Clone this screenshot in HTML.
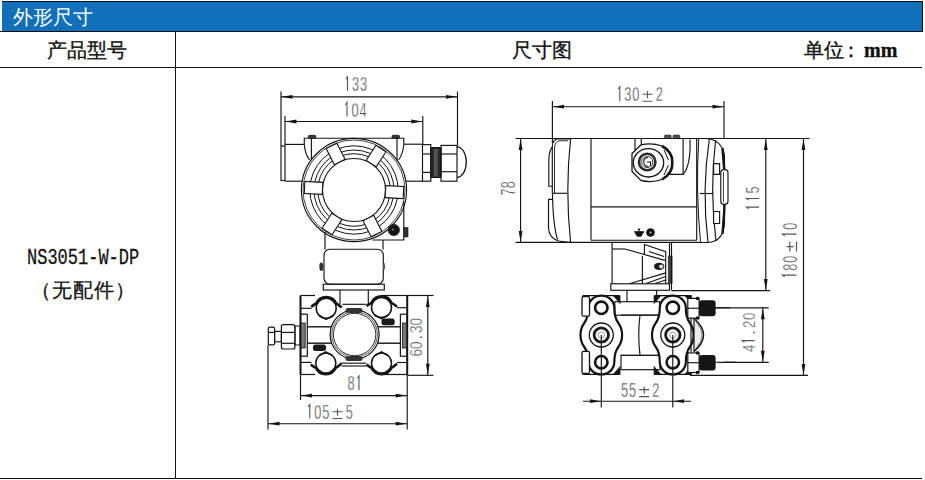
<!DOCTYPE html>
<html><head><meta charset="utf-8">
<style>
html,body{margin:0;padding:0;background:#fff;}
body{width:925px;height:480px;position:relative;overflow:hidden;font-family:"Liberation Sans",sans-serif;}
.ab{position:absolute;}
.hl{position:absolute;background:#111;}
#hdr{left:2px;top:2px;width:920px;height:29px;background:#1170b9;border-right:1px solid #111;}
#hdrt{left:12.5px;top:4.7px;color:#fff;font-size:20px;line-height:24px;white-space:nowrap;}
.th{font-weight:500;-webkit-text-stroke:0.35px #111;font-size:19.5px;line-height:22px;color:#111;white-space:nowrap;}
</style></head><body>
<div class="hl" style="left:2px;top:1px;width:921px;height:1px"></div>
<div id="hdr" class="ab"></div>
<div id="hdrt" class="ab">外形尺寸</div>
<div class="hl" style="left:0;top:31px;width:923px;height:1px"></div>
<div class="hl" style="left:0;top:67px;width:922px;height:1px"></div>
<div class="hl" style="left:175px;top:31px;width:1px;height:448px"></div>
<div class="hl" style="left:0;top:478px;width:922px;height:1px"></div>
<div class="ab th" style="left:47px;top:39px">产品型号</div>
<div class="ab th" style="left:512px;top:39px">尺寸图</div>
<div class="ab th" style="left:804px;top:39px">单位<span style="margin-left:-3px;margin-right:3px">：</span><span style="font-family:'Liberation Serif',serif;font-size:20px;font-weight:bold">mm</span></div>
<div class="ab" style="left:27px;top:245px;font-family:'Liberation Mono',monospace;font-size:17px;line-height:22px;color:#111;white-space:nowrap;transform:scaleY(1.28);transform-origin:0 0;-webkit-text-stroke:0.2px #111">NS3051-W-DP</div>
<div class="ab" style="left:30.5px;top:278px;font-size:19.5px;line-height:24px;color:#111;white-space:nowrap;letter-spacing:1px;-webkit-text-stroke:0.3px #111">（无配件）</div>
<svg class="ab" style="left:0;top:0" width="925" height="480" viewBox="0 0 925 480">
<line x1="281" y1="91.5" x2="281" y2="181" stroke="#141414" stroke-width="1.15"/>
<line x1="285" y1="116" x2="285" y2="181" stroke="#141414" stroke-width="1.15"/>
<line x1="457.5" y1="91.5" x2="457.5" y2="145.5" stroke="#141414" stroke-width="1.15"/>
<line x1="422.8" y1="116" x2="422.8" y2="144.5" stroke="#141414" stroke-width="1.15"/>
<line x1="281" y1="96.8" x2="457.5" y2="96.8" stroke="#141414" stroke-width="1.15"/>
<polygon points="281.5,96.8 292.5,94.9 292.5,98.7" fill="#141414"/>
<polygon points="457.0,96.8 446.0,94.9 446.0,98.7" fill="#141414"/>
<g transform="translate(355.5 84)"><path d="M-9.60 -4.80 L-8.00 -7.00 V7.00" stroke="#55555c" stroke-width="1.1" fill="none"/><text transform="translate(0.00 7.00) scale(0.653 1)" x="0" y="0" font-family="Liberation Sans" font-size="19.55" fill="#55555c" stroke="#fff" stroke-width="0.3" text-anchor="middle">3</text><text transform="translate(8.00 7.00) scale(0.653 1)" x="0" y="0" font-family="Liberation Sans" font-size="19.55" fill="#55555c" stroke="#fff" stroke-width="0.3" text-anchor="middle">3</text></g>
<line x1="285" y1="121.5" x2="422.8" y2="121.5" stroke="#141414" stroke-width="1.15"/>
<polygon points="285.5,121.5 296.5,119.6 296.5,123.4" fill="#141414"/>
<polygon points="422.3,121.5 411.3,119.6 411.3,123.4" fill="#141414"/>
<g transform="translate(355 109.5)"><path d="M-9.60 -4.80 L-8.00 -7.00 V7.00" stroke="#55555c" stroke-width="1.1" fill="none"/><text transform="translate(0.00 7.00) scale(0.653 1)" x="0" y="0" font-family="Liberation Sans" font-size="19.55" fill="#55555c" stroke="#fff" stroke-width="0.3" text-anchor="middle">0</text><text transform="translate(8.00 7.00) scale(0.653 1)" x="0" y="0" font-family="Liberation Sans" font-size="19.55" fill="#55555c" stroke="#fff" stroke-width="0.3" text-anchor="middle">4</text></g>
<line x1="281" y1="146" x2="285" y2="146" stroke="#141414" stroke-width="1.15"/>
<line x1="281" y1="180.5" x2="285" y2="180.5" stroke="#141414" stroke-width="1.15"/>
<line x1="285" y1="144.4" x2="304.3" y2="144.4" stroke="#141414" stroke-width="1.15"/>
<line x1="285" y1="181.2" x2="303" y2="181.2" stroke="#141414" stroke-width="1.15"/>
<path d="M304.3 144.4 V138.2 H403.8 V144.2" stroke="#141414" stroke-width="1.15" fill="none"/>
<path d="M304.3 144.4 Q305 154 309.5 160" stroke="#141414" stroke-width="1.15" fill="none"/>
<path d="M403.8 144.2 Q403 154 398.5 160" stroke="#141414" stroke-width="1.15" fill="none"/>
<line x1="311.4" y1="138.2" x2="311.4" y2="160" stroke="#141414" stroke-width="1.15"/>
<line x1="397" y1="138.2" x2="397" y2="160" stroke="#141414" stroke-width="1.15"/>
<rect x="308.3" y="135.3" width="7.5" height="2.9" rx="1.2" stroke="#141414" stroke-width="0.8" fill="#3a3a3a"/>
<rect x="392" y="135.3" width="7.5" height="2.9" rx="1.2" stroke="#141414" stroke-width="0.8" fill="#3a3a3a"/>
<line x1="404" y1="144.2" x2="422.5" y2="144.2" stroke="#141414" stroke-width="1.15"/>
<line x1="404" y1="181.2" x2="422.5" y2="181.2" stroke="#141414" stroke-width="1.15"/>
<rect x="422.5" y="144.6" width="8.3" height="36.6" rx="0" stroke="#141414" stroke-width="1.15" fill="none"/>
<line x1="422.5" y1="154" x2="430.8" y2="154" stroke="#141414" stroke-width="1.15"/>
<line x1="422.5" y1="172.4" x2="430.8" y2="172.4" stroke="#141414" stroke-width="1.15"/>
<rect x="430.8" y="147.6" width="10.2" height="29.9" rx="1" stroke="#141414" stroke-width="1.2" fill="#2a2a2a"/>
<line x1="434.5" y1="149" x2="434.5" y2="176.5" stroke="#666" stroke-width="0.8"/>
<line x1="437.5" y1="149" x2="437.5" y2="176.5" stroke="#555" stroke-width="0.8"/>
<line x1="436" y1="149" x2="436" y2="176.5" stroke="#bbb" stroke-width="0.6"/>
<rect x="441" y="145.4" width="16" height="35.8" rx="0" stroke="#141414" stroke-width="1.15" fill="none"/>
<line x1="441" y1="154" x2="457" y2="154" stroke="#141414" stroke-width="1.15"/>
<line x1="441" y1="171.7" x2="457" y2="171.7" stroke="#141414" stroke-width="1.15"/>
<path d="M457 146.8 A9.3 15.3 0 0 1 457 177.4" stroke="#141414" stroke-width="1.25" fill="none"/>
<ellipse cx="354" cy="190" rx="52.6" ry="51.6" stroke="#141414" stroke-width="1.1" fill="#fff"/>
<ellipse cx="354" cy="190" rx="51" ry="50" stroke="#141414" stroke-width="0.8" fill="none"/>
<circle cx="354" cy="190" r="44.2" stroke="#141414" stroke-width="1" fill="none"/>
<circle cx="354" cy="190" r="40" stroke="#141414" stroke-width="1" fill="none"/>
<circle cx="354" cy="190" r="36.3" stroke="#141414" stroke-width="1" fill="none"/>
<circle cx="354" cy="190" r="31.5" stroke="#141414" stroke-width="1.1" fill="#fff"/>
<g transform="rotate(3 354 190)"><rect x="385.5" y="184" width="18" height="12" stroke="#141414" stroke-width="1.1" fill="#fff"/></g>
<g transform="rotate(63 354 190)"><rect x="385.5" y="184" width="18" height="12" stroke="#141414" stroke-width="1.1" fill="#fff"/></g>
<g transform="rotate(123 354 190)"><rect x="385.5" y="184" width="18" height="12" stroke="#141414" stroke-width="1.1" fill="#fff"/></g>
<g transform="rotate(183 354 190)"><rect x="385.5" y="184" width="18" height="12" stroke="#141414" stroke-width="1.1" fill="#fff"/></g>
<g transform="rotate(243 354 190)"><rect x="385.5" y="184" width="18" height="12" stroke="#141414" stroke-width="1.1" fill="#fff"/></g>
<g transform="rotate(303 354 190)"><rect x="385.5" y="184" width="18" height="12" stroke="#141414" stroke-width="1.1" fill="#fff"/></g>
<path d="M403.8 201 V240 H372.5" stroke="#141414" stroke-width="1.15" fill="none"/>
<circle cx="393.8" cy="230" r="5.8" stroke="#141414" stroke-width="0.5" fill="#151515"/>
<circle cx="393" cy="229.5" r="1" stroke="#141414" stroke-width="0" fill="#888"/>
<rect x="404" y="227.5" width="4" height="9.5" rx="0" stroke="#141414" stroke-width="0.6" fill="#333"/>
<line x1="325" y1="232" x2="325" y2="249.5" stroke="#141414" stroke-width="1.15"/>
<line x1="383" y1="240" x2="383" y2="249.5" stroke="#141414" stroke-width="1.15"/>
<rect x="324" y="249.2" width="59.3" height="35" rx="6" stroke="#141414" stroke-width="1.15" fill="none"/>
<ellipse cx="321.3" cy="266.7" rx="2" ry="4.2" fill="#333"/>
<ellipse cx="384" cy="266.5" rx="1" ry="3.5" fill="#555"/>
<rect x="323.3" y="284.2" width="61" height="5.8" rx="0" stroke="#141414" stroke-width="1.15" fill="none"/>
<line x1="340" y1="290" x2="340" y2="304.3" stroke="#141414" stroke-width="1.15"/>
<line x1="368.3" y1="290" x2="368.3" y2="304.3" stroke="#141414" stroke-width="1.15"/>
<line x1="300.5" y1="295.5" x2="300.5" y2="374.5" stroke="#141414" stroke-width="2"/>
<line x1="407.2" y1="295.5" x2="407.2" y2="374.5" stroke="#141414" stroke-width="2"/>
<line x1="300.5" y1="295.5" x2="315" y2="295.5" stroke="#141414" stroke-width="1.2"/>
<line x1="300.5" y1="374.5" x2="315" y2="374.5" stroke="#141414" stroke-width="1.2"/>
<line x1="381" y1="295.5" x2="407.2" y2="295.5" stroke="#141414" stroke-width="1.2"/>
<line x1="381" y1="374.5" x2="407.2" y2="374.5" stroke="#141414" stroke-width="1.2"/>
<circle cx="326.2" cy="308.3" r="10" stroke="#141414" stroke-width="1.5" fill="#fff"/>
<path d="M319.2 315.3 L326.2 319.5 L333.2 315.3" stroke="#141414" stroke-width="1.4" fill="none"/>
<path d="M311.2 306.8 Q313.7 304.8 316.2 303.5 A11 11 0 0 1 336.2 303.5 Q338.7 304.8 341.7 307.5" stroke="#141414" stroke-width="2.6" fill="none"/>
<circle cx="381.5" cy="307.6" r="10" stroke="#141414" stroke-width="1.5" fill="#fff"/>
<path d="M374.5 314.6 L381.5 318.8 L388.5 314.6" stroke="#141414" stroke-width="1.4" fill="none"/>
<path d="M366.5 306.1 Q369.0 304.1 371.5 302.8 A11 11 0 0 1 391.5 302.8 Q394.0 304.1 397.0 306.8" stroke="#141414" stroke-width="2.6" fill="none"/>
<circle cx="325.8" cy="363" r="10" stroke="#141414" stroke-width="1.5" fill="#fff"/>
<path d="M318.8 356 L325.8 351.8 L332.8 356" stroke="#141414" stroke-width="1.4" fill="none"/>
<path d="M310.8 364.5 Q313.3 366.5 315.8 367.8 A11 11 0 0 0 335.8 367.8 Q338.3 366.5 341.3 363.8" stroke="#141414" stroke-width="2.6" fill="none"/>
<circle cx="381.5" cy="363" r="10" stroke="#141414" stroke-width="1.5" fill="#fff"/>
<path d="M374.5 356 L381.5 351.8 L388.5 356" stroke="#141414" stroke-width="1.4" fill="none"/>
<path d="M366.5 364.5 Q369.0 366.5 371.5 367.8 A11 11 0 0 0 391.5 367.8 Q394.0 366.5 397.0 363.8" stroke="#141414" stroke-width="2.6" fill="none"/>
<line x1="300.5" y1="308.3" x2="311.7" y2="308.3" stroke="#141414" stroke-width="1.15"/>
<line x1="342.5" y1="304.3" x2="366" y2="304.3" stroke="#141414" stroke-width="1.15"/>
<line x1="397" y1="307.7" x2="407.2" y2="307.7" stroke="#141414" stroke-width="1.15"/>
<line x1="300.5" y1="362.4" x2="311.5" y2="362.4" stroke="#141414" stroke-width="1.15"/>
<line x1="340" y1="363.2" x2="366.4" y2="363.2" stroke="#141414" stroke-width="1.15"/>
<line x1="397" y1="362.5" x2="407.2" y2="362.5" stroke="#141414" stroke-width="1.15"/>
<line x1="341.6" y1="366" x2="366.4" y2="366" stroke="#141414" stroke-width="1.15"/>
<line x1="307" y1="326.8" x2="332" y2="326.8" stroke="#141414" stroke-width="1.4"/>
<line x1="307" y1="343.2" x2="332" y2="343.2" stroke="#141414" stroke-width="1.4"/>
<line x1="377" y1="326.8" x2="400.5" y2="326.8" stroke="#141414" stroke-width="1.4"/>
<line x1="377" y1="343.2" x2="400.5" y2="343.2" stroke="#141414" stroke-width="1.4"/>
<rect x="300.5" y="314.2" width="6.8" height="42" rx="0" stroke="#141414" stroke-width="1.2" fill="none"/>
<rect x="301" y="323" width="4.2" height="25" rx="0" stroke="#141414" stroke-width="0.8" fill="#777"/>
<rect x="400.4" y="314.2" width="6.8" height="42" rx="0" stroke="#141414" stroke-width="1.2" fill="none"/>
<rect x="402.5" y="323" width="4.2" height="25" rx="0" stroke="#141414" stroke-width="0.8" fill="#777"/>
<circle cx="354.6" cy="334.5" r="24.5" stroke="#141414" stroke-width="1.2" fill="#fff"/>
<circle cx="354.6" cy="334.5" r="22.8" stroke="#141414" stroke-width="0.7" fill="none"/>
<circle cx="354.6" cy="334.5" r="21.2" stroke="#141414" stroke-width="0.9" fill="#fff"/>
<rect x="345.5" y="308" width="17" height="5" rx="2.5" stroke="#141414" stroke-width="0" fill="#333"/>
<rect x="345.5" y="356" width="17" height="5" rx="2.5" stroke="#141414" stroke-width="0" fill="#333"/>
<rect x="381.5" y="318.6" width="13.2" height="6.6" rx="2.5" stroke="#141414" stroke-width="0" fill="#1a1a1a"/>
<rect x="313" y="344.5" width="13" height="6.6" rx="2.5" stroke="#141414" stroke-width="0" fill="#1a1a1a"/>
<rect x="295" y="326" width="5" height="19" rx="0" stroke="#141414" stroke-width="1" fill="none"/>
<rect x="281.4" y="324.6" width="13.5" height="24.4" rx="2" stroke="#141414" stroke-width="1.2" fill="none"/>
<line x1="281.4" y1="332.4" x2="294.9" y2="332.4" stroke="#141414" stroke-width="1.15"/>
<line x1="281.4" y1="343.3" x2="294.9" y2="343.3" stroke="#141414" stroke-width="1.15"/>
<rect x="274.6" y="331.4" width="6.8" height="10.4" rx="0" stroke="#141414" stroke-width="1.15" fill="none"/>
<rect x="268.3" y="327.2" width="6.3" height="17.7" rx="1.5" stroke="#141414" stroke-width="1.2" fill="none"/>
<line x1="268.3" y1="332.4" x2="274.6" y2="332.4" stroke="#141414" stroke-width="1.15"/>
<line x1="300.5" y1="374.5" x2="300.5" y2="400" stroke="#141414" stroke-width="1.15"/>
<line x1="407.2" y1="374.5" x2="407.2" y2="429.5" stroke="#141414" stroke-width="1.15"/>
<line x1="300.5" y1="395.6" x2="407.2" y2="395.6" stroke="#141414" stroke-width="1.15"/>
<polygon points="301.0,395.6 312.0,393.7 312.0,397.5" fill="#141414"/>
<polygon points="406.7,395.6 395.7,393.7 395.7,397.5" fill="#141414"/>
<g transform="translate(355 383)"><text transform="translate(-4.00 7.00) scale(0.653 1)" x="0" y="0" font-family="Liberation Sans" font-size="19.55" fill="#55555c" stroke="#fff" stroke-width="0.3" text-anchor="middle">8</text><path d="M2.40 -4.80 L4.00 -7.00 V7.00" stroke="#55555c" stroke-width="1.1" fill="none"/></g>
<line x1="268" y1="345" x2="268" y2="429.5" stroke="#141414" stroke-width="1.15"/>
<line x1="268" y1="423.7" x2="407.2" y2="423.7" stroke="#141414" stroke-width="1.15"/>
<polygon points="268.5,423.7 279.5,421.8 279.5,425.6" fill="#141414"/>
<polygon points="406.7,423.7 395.7,421.8 395.7,425.6" fill="#141414"/>
<g transform="translate(329.5 411.5)"><path d="M-21.30 -4.80 L-19.70 -7.00 V7.00" stroke="#55555c" stroke-width="1.1" fill="none"/><text transform="translate(-11.70 7.00) scale(0.653 1)" x="0" y="0" font-family="Liberation Sans" font-size="19.55" fill="#55555c" stroke="#fff" stroke-width="0.3" text-anchor="middle">0</text><text transform="translate(-3.70 7.00) scale(0.653 1)" x="0" y="0" font-family="Liberation Sans" font-size="19.55" fill="#55555c" stroke="#fff" stroke-width="0.3" text-anchor="middle">5</text><path d="M3.00 0.28 H13.00 M8.00 -2.80 V4.20 M3.00 7.00 H13.00" stroke="#55555c" stroke-width="1.15" fill="none"/><text transform="translate(19.70 7.00) scale(0.653 1)" x="0" y="0" font-family="Liberation Sans" font-size="19.55" fill="#55555c" stroke="#fff" stroke-width="0.3" text-anchor="middle">5</text></g>
<line x1="407.2" y1="295.5" x2="433.5" y2="295.5" stroke="#141414" stroke-width="1.15"/>
<line x1="407.2" y1="375.3" x2="433.5" y2="375.3" stroke="#141414" stroke-width="1.15"/>
<line x1="427.8" y1="295.5" x2="427.8" y2="375.3" stroke="#141414" stroke-width="1.15"/>
<polygon points="427.8,296.0 425.9,307.0 429.7,307.0" fill="#141414"/>
<polygon points="427.8,374.8 425.9,363.8 429.7,363.8" fill="#141414"/>
<g transform="translate(415.7 337.2) rotate(-90)"><text transform="translate(-15.58 6.10) scale(0.799 1)" x="0" y="0" font-family="Liberation Sans" font-size="17.04" fill="#55555c" stroke="#fff" stroke-width="0.3" text-anchor="middle">6</text><text transform="translate(-7.98 6.10) scale(0.799 1)" x="0" y="0" font-family="Liberation Sans" font-size="17.04" fill="#55555c" stroke="#fff" stroke-width="0.3" text-anchor="middle">0</text><circle cx="0.00" cy="5.30" r="0.9" fill="#55555c"/><text transform="translate(7.98 6.10) scale(0.799 1)" x="0" y="0" font-family="Liberation Sans" font-size="17.04" fill="#55555c" stroke="#fff" stroke-width="0.3" text-anchor="middle">3</text><text transform="translate(15.58 6.10) scale(0.799 1)" x="0" y="0" font-family="Liberation Sans" font-size="17.04" fill="#55555c" stroke="#fff" stroke-width="0.3" text-anchor="middle">0</text></g>
<line x1="515.5" y1="138.5" x2="809.5" y2="138.5" stroke="#141414" stroke-width="1.15"/>
<line x1="515.5" y1="242.4" x2="702" y2="242.4" stroke="#141414" stroke-width="1.15"/>
<line x1="520.6" y1="138.5" x2="520.6" y2="242.5" stroke="#141414" stroke-width="1.15"/>
<polygon points="520.6,139.0 518.7,150.0 522.5,150.0" fill="#141414"/>
<polygon points="520.6,242.0 518.7,231.0 522.5,231.0" fill="#141414"/>
<g transform="translate(507.7 188.4) rotate(-90)"><text transform="translate(-3.75 7.00) scale(0.653 1)" x="0" y="0" font-family="Liberation Sans" font-size="19.55" fill="#55555c" stroke="#fff" stroke-width="0.3" text-anchor="middle">7</text><text transform="translate(3.75 7.00) scale(0.653 1)" x="0" y="0" font-family="Liberation Sans" font-size="19.55" fill="#55555c" stroke="#fff" stroke-width="0.3" text-anchor="middle">8</text></g>
<line x1="552.4" y1="101" x2="552.4" y2="143" stroke="#141414" stroke-width="1.15"/>
<line x1="724" y1="101" x2="724" y2="139" stroke="#141414" stroke-width="1.15"/>
<line x1="552.4" y1="106.7" x2="724" y2="106.7" stroke="#141414" stroke-width="1.15"/>
<polygon points="553.0,106.7 564.0,104.8 564.0,108.6" fill="#141414"/>
<polygon points="723.5,106.7 712.5,104.8 712.5,108.6" fill="#141414"/>
<g transform="translate(639.5 94)"><path d="M-21.30 -5.05 L-19.70 -7.25 V7.25" stroke="#55555c" stroke-width="1.1" fill="none"/><text transform="translate(-11.70 7.25) scale(0.630 1)" x="0" y="0" font-family="Liberation Sans" font-size="20.25" fill="#55555c" stroke="#fff" stroke-width="0.3" text-anchor="middle">3</text><text transform="translate(-3.70 7.25) scale(0.630 1)" x="0" y="0" font-family="Liberation Sans" font-size="20.25" fill="#55555c" stroke="#fff" stroke-width="0.3" text-anchor="middle">0</text><path d="M3.00 0.29 H13.00 M8.00 -2.90 V4.35 M3.00 7.25 H13.00" stroke="#55555c" stroke-width="1.15" fill="none"/><text transform="translate(19.70 7.25) scale(0.630 1)" x="0" y="0" font-family="Liberation Sans" font-size="20.25" fill="#55555c" stroke="#fff" stroke-width="0.3" text-anchor="middle">2</text></g>
<path d="M570.6 138.8 H558 Q552.5 139.5 552.3 147 V193.5" stroke="#141414" stroke-width="1.15" fill="none"/>
<path d="M568 140.8 H559 Q555 141.5 554.5 148 V193.5" stroke="#141414" stroke-width="0.9" fill="none"/>
<path d="M552 147 Q549 152 548.8 160 V186.2 H552.3" stroke="#141414" stroke-width="1.15" fill="none"/>
<path d="M553 199.4 H548.5 V228 Q549 238 558.7 241 L570.6 242.5" stroke="#141414" stroke-width="1.15" fill="none"/>
<path d="M552.5 193.5 Q553 225 557.5 239.5" stroke="#141414" stroke-width="1.15" fill="none"/>
<line x1="552.5" y1="193.3" x2="567" y2="193.3" stroke="#141414" stroke-width="1.15"/>
<path d="M570.6 138.8 Q565 190 570.6 242.5" stroke="#141414" stroke-width="1.15" fill="none"/>
<line x1="591" y1="138.5" x2="591" y2="240.2" stroke="#141414" stroke-width="1.15"/>
<line x1="591" y1="240.2" x2="696.7" y2="240.2" stroke="#141414" stroke-width="1.15"/>
<line x1="591" y1="206.9" x2="696.7" y2="206.9" stroke="#141414" stroke-width="1.15"/>
<line x1="696.7" y1="138.5" x2="696.7" y2="240.2" stroke="#141414" stroke-width="1.15"/>
<path d="M698.8 138.5 Q695.5 190 700.5 241.5" stroke="#141414" stroke-width="1.0" fill="none"/>
<path d="M709.4 138.5 Q701.5 190 708 242.2" stroke="#141414" stroke-width="1.15" fill="none"/>
<path d="M715.6 140 Q709.5 190 716 241" stroke="#141414" stroke-width="1.15" fill="none"/>
<path d="M705 138.5 Q722 139 724.5 156 V222 Q724 241.5 708 242.5 H698.7" stroke="#141414" stroke-width="1.15" fill="none"/>
<path d="M722.5 148 Q727 190 722.5 234" stroke="#141414" stroke-width="2.4" fill="none"/>
<rect x="720.8" y="169.6" width="7.2" height="34.7" rx="3" stroke="#141414" stroke-width="1.15" fill="#fff"/>
<line x1="723.5" y1="172" x2="723.5" y2="202" stroke="#141414" stroke-width="0.8"/>
<line x1="700" y1="193.5" x2="713.3" y2="193.5" stroke="#141414" stroke-width="1.15"/>
<path d="M713.6 163.6 H719.6 V174.4 H713.6 Z" stroke="#141414" stroke-width="1.15" fill="#fff"/>
<path d="M713.6 211.5 H719.6 V223.5 H713.6 Z" stroke="#141414" stroke-width="1.15" fill="#fff"/>
<path d="M635 138.5 V153.7" stroke="#141414" stroke-width="1.15" fill="none"/>
<line x1="641.3" y1="138.5" x2="641.3" y2="146" stroke="#141414" stroke-width="1.15"/>
<path d="M683.1 138.5 V174.4 H667.5" stroke="#141414" stroke-width="1.15" fill="none"/>
<path d="M690 139.4 Q691 165 683.1 174.4" stroke="#141414" stroke-width="1.15" fill="none"/>
<rect x="664.4" y="135" width="6.8" height="3.3" rx="1" stroke="#141414" stroke-width="0.5" fill="#555"/>
<rect x="673" y="135" width="6.8" height="3.3" rx="1" stroke="#141414" stroke-width="0.5" fill="#555"/>
<path d="M632 153.5 L641 144.8 Q652 142.5 662 146 Q672.5 152 672 162.6 Q672.5 173 662 179.5 Q652 183 641 180.5 L632 171.5 Z" stroke="#141414" stroke-width="1.3" fill="#fff"/>
<path d="M662 146 Q673 152 672.3 162.6 Q673 173 662 179.5" stroke="#141414" stroke-width="2.6" fill="none"/>
<path d="M664 150 L668.5 160 M664 175 L668.5 165" stroke="#141414" stroke-width="1.0" fill="none"/>
<ellipse cx="648.5" cy="162.8" rx="15.2" ry="14.2" stroke="#141414" stroke-width="1.3" fill="#fff"/>
<circle cx="647.2" cy="162" r="8.2" stroke="#2a2a2a" stroke-width="2.6" fill="#fff"/>
<circle cx="647.2" cy="162" r="5.6" stroke="#141414" stroke-width="0.8" fill="none"/>
<path d="M648 157.5 Q643.5 158 643.8 162 Q644 166.5 648.5 166.5 M646.8 162 H650.5 V166" stroke="#141414" stroke-width="1.1" fill="none"/>
<circle cx="639" cy="229.6" r="1.2" stroke="#141414" stroke-width="0" fill="#141414"/>
<path d="M634.4 231.6 L643.8 231.6 L641 236.3 L637.2 236.3 Z" stroke="#141414" stroke-width="0.8" fill="#141414"/>
<circle cx="650.5" cy="232.5" r="4.3" stroke="#141414" stroke-width="0" fill="#141414"/>
<circle cx="650.5" cy="232.5" r="1.1" stroke="#141414" stroke-width="0" fill="#bbb"/>
<path d="M612.1 242.5 V283.8" stroke="#141414" stroke-width="1.15" fill="none"/>
<line x1="669.5" y1="242.5" x2="669.5" y2="283.8" stroke="#141414" stroke-width="1.15"/>
<line x1="612.1" y1="249" x2="625" y2="249" stroke="#141414" stroke-width="1.15"/>
<line x1="625" y1="249" x2="665.7" y2="260.6" stroke="#141414" stroke-width="1.15"/>
<line x1="629.5" y1="283.8" x2="665.7" y2="272.9" stroke="#141414" stroke-width="1.15"/>
<line x1="642.4" y1="256" x2="642.4" y2="283.8" stroke="#141414" stroke-width="1.15"/>
<path d="M644.4 255 V244.5 L665.7 251.6 V283.8" stroke="#141414" stroke-width="1.15" fill="none"/>
<path d="M646 283.5 L665.7 276.5 M655 283.5 L665.7 280" stroke="#141414" stroke-width="1.15" fill="none"/>
<path d="M649 251.5 L664 256.5" stroke="#141414" stroke-width="1.15" fill="none"/>
<ellipse cx="659.2" cy="266.4" rx="5.2" ry="3.6" fill="#1a1a1a"/>
<ellipse cx="661.2" cy="266.4" rx="2.2" ry="2" fill="#ddd"/>
<rect x="668.2" y="256" width="3.9" height="27.2" rx="0" stroke="#141414" stroke-width="0.5" fill="#444"/>
<line x1="671.5" y1="242.5" x2="671.5" y2="290" stroke="#141414" stroke-width="1.15"/>
<rect x="610.8" y="283.8" width="58.7" height="6.5" rx="0" stroke="#141414" stroke-width="1.15" fill="none"/>
<line x1="627" y1="290.3" x2="627" y2="301.7" stroke="#141414" stroke-width="1.15"/>
<line x1="656.6" y1="290.3" x2="656.6" y2="301.7" stroke="#141414" stroke-width="1.15"/>
<line x1="671.5" y1="290.6" x2="770.2" y2="290.6" stroke="#141414" stroke-width="1.15"/>
<rect x="614.8" y="301.7" width="44.8" height="13.5" rx="0" stroke="#141414" stroke-width="1.15" fill="#fff"/>
<line x1="621" y1="315" x2="660" y2="315" stroke="#141414" stroke-width="1.15"/>
<line x1="621" y1="355.4" x2="660" y2="355.4" stroke="#141414" stroke-width="1.15"/>
<rect x="621" y="355.4" width="39" height="14.3" rx="0" stroke="#141414" stroke-width="1.15" fill="#fff"/>
<path d="M640 315 Q637.5 335 640 355.4" stroke="#141414" stroke-width="1.15" fill="none"/>
<line x1="583.3" y1="295.6" x2="619.3" y2="295.6" stroke="#141414" stroke-width="1.2"/>
<line x1="583.3" y1="374.4" x2="619.3" y2="374.4" stroke="#141414" stroke-width="1.2"/>
<path d="M582.5 295.6 h7 l-7 8 Z" stroke="#141414" stroke-width="0.6" fill="#141414"/>
<path d="M620.0999999999999 295.6 h-7 l7 8 Z" stroke="#141414" stroke-width="0.6" fill="#141414"/>
<path d="M582.5 374.4 h7 l-7 -8 Z" stroke="#141414" stroke-width="0.6" fill="#141414"/>
<path d="M620.0999999999999 374.4 h-7 l7 -8 Z" stroke="#141414" stroke-width="0.6" fill="#141414"/>
<path d="M588.3 307.8 A13 12.2 0 0 1 614.3 307.8 C614.3 314 615.3 319 618.3 323 C621.3 327 622.0999999999999 331 622.0999999999999 335 C622.0999999999999 339 621.3 343 618.3 347 C615.3 351 614.3 356 614.3 362.2 A13 12.2 0 0 1 588.3 362.2 C588.3 356 587.3 351 584.3 347 C581.3 343 580.5 339 580.5 335 C580.5 331 581.3 327 584.3 323 C587.3 319 588.3 314 588.3 307.8 Z" stroke="#141414" stroke-width="2.2" fill="#fff"/>
<circle cx="601.3" cy="307.8" r="6.2" stroke="#141414" stroke-width="2.6" fill="#fff"/>
<circle cx="601.3" cy="362.2" r="6.2" stroke="#141414" stroke-width="2.6" fill="#fff"/>
<circle cx="601.3" cy="335" r="12" stroke="#141414" stroke-width="1.3" fill="#fff"/>
<circle cx="601.3" cy="335" r="7.2" stroke="#1a1a1a" stroke-width="2.8" fill="#fff"/>
<circle cx="601.3" cy="335" r="3.2" stroke="#888" stroke-width="0.8" fill="none"/>
<line x1="654.8" y1="295.6" x2="690.8" y2="295.6" stroke="#141414" stroke-width="1.2"/>
<line x1="654.8" y1="374.4" x2="690.8" y2="374.4" stroke="#141414" stroke-width="1.2"/>
<path d="M654.0 295.6 h7 l-7 8 Z" stroke="#141414" stroke-width="0.6" fill="#141414"/>
<path d="M691.5999999999999 295.6 h-7 l7 8 Z" stroke="#141414" stroke-width="0.6" fill="#141414"/>
<path d="M654.0 374.4 h7 l-7 -8 Z" stroke="#141414" stroke-width="0.6" fill="#141414"/>
<path d="M691.5999999999999 374.4 h-7 l7 -8 Z" stroke="#141414" stroke-width="0.6" fill="#141414"/>
<path d="M659.8 307.8 A13 12.2 0 0 1 685.8 307.8 C685.8 314 686.8 319 689.8 323 C692.8 327 693.5999999999999 331 693.5999999999999 335 C693.5999999999999 339 692.8 343 689.8 347 C686.8 351 685.8 356 685.8 362.2 A13 12.2 0 0 1 659.8 362.2 C659.8 356 658.8 351 655.8 347 C652.8 343 652.0 339 652.0 335 C652.0 331 652.8 327 655.8 323 C658.8 319 659.8 314 659.8 307.8 Z" stroke="#141414" stroke-width="2.2" fill="#fff"/>
<circle cx="672.8" cy="307.8" r="6.2" stroke="#141414" stroke-width="2.6" fill="#fff"/>
<circle cx="672.8" cy="362.2" r="6.2" stroke="#141414" stroke-width="2.6" fill="#fff"/>
<circle cx="672.8" cy="335" r="12" stroke="#141414" stroke-width="1.3" fill="#fff"/>
<circle cx="672.8" cy="335" r="7.2" stroke="#1a1a1a" stroke-width="2.8" fill="#fff"/>
<circle cx="672.8" cy="335" r="3.2" stroke="#888" stroke-width="0.8" fill="none"/>
<rect x="582" y="296.7" width="7.5" height="19.5" rx="1.5" stroke="#141414" stroke-width="1.3" fill="#fff"/>
<rect x="582" y="351.4" width="7.5" height="22" rx="1.5" stroke="#141414" stroke-width="1.3" fill="#fff"/>
<rect x="687.8" y="298.4" width="11.3" height="19.700000000000045" rx="0" stroke="#141414" stroke-width="1.2" fill="#fff"/>
<line x1="687.8" y1="308.25" x2="699.1" y2="308.25" stroke="#141414" stroke-width="1.15"/>
<rect x="699.1" y="300.3" width="16.5" height="16.0" rx="3" stroke="#141414" stroke-width="0" fill="#151515"/>
<rect x="696" y="296.9" width="3" height="3" rx="0" stroke="#141414" stroke-width="0" fill="#141414"/>
<rect x="696" y="316.6" width="3" height="3" rx="0" stroke="#141414" stroke-width="0" fill="#141414"/>
<rect x="687.8" y="352.9" width="11.3" height="19.600000000000023" rx="0" stroke="#141414" stroke-width="1.2" fill="#fff"/>
<line x1="687.8" y1="362.7" x2="699.1" y2="362.7" stroke="#141414" stroke-width="1.15"/>
<rect x="699.1" y="355" width="16.5" height="15.5" rx="3" stroke="#141414" stroke-width="0" fill="#151515"/>
<rect x="696" y="351.4" width="3" height="3" rx="0" stroke="#141414" stroke-width="0" fill="#141414"/>
<rect x="696" y="371.0" width="3" height="3" rx="0" stroke="#141414" stroke-width="0" fill="#141414"/>
<path d="M694 318.5 Q713 335 694 351.5" stroke="#141414" stroke-width="1.6" fill="#eee"/>
<path d="M696 322 Q708 335 696 348" stroke="#777" stroke-width="0.8" fill="none"/>
<line x1="691" y1="318" x2="691" y2="352" stroke="#141414" stroke-width="1.2"/>
<line x1="694" y1="318" x2="694" y2="352" stroke="#141414" stroke-width="1.2"/>
<path d="M715 307.8 H730 M715 362.2 H719 M724 362.2 H736" stroke="#141414" stroke-width="1"/>
<line x1="714.6" y1="307.8" x2="768.7" y2="307.8" stroke="#141414" stroke-width="1.15"/>
<line x1="719" y1="362.3" x2="768.7" y2="362.3" stroke="#141414" stroke-width="1.15"/>
<line x1="762.8" y1="307.8" x2="762.8" y2="362.3" stroke="#141414" stroke-width="1.15"/>
<polygon points="762.8,308.3 760.9,319.3 764.7,319.3" fill="#141414"/>
<polygon points="762.8,361.8 760.9,350.8 764.7,350.8" fill="#141414"/>
<g transform="translate(748.5 332.4) rotate(-90)"><text transform="translate(-15.99 6.20) scale(0.762 1)" x="0" y="0" font-family="Liberation Sans" font-size="17.32" fill="#55555c" stroke="#fff" stroke-width="0.3" text-anchor="middle">4</text><path d="M-9.79 -4.00 L-8.19 -6.20 V6.20" stroke="#55555c" stroke-width="1.1" fill="none"/><circle cx="-0.00" cy="5.40" r="0.9" fill="#55555c"/><text transform="translate(8.19 6.20) scale(0.762 1)" x="0" y="0" font-family="Liberation Sans" font-size="17.32" fill="#55555c" stroke="#fff" stroke-width="0.3" text-anchor="middle">2</text><text transform="translate(15.99 6.20) scale(0.762 1)" x="0" y="0" font-family="Liberation Sans" font-size="17.32" fill="#55555c" stroke="#fff" stroke-width="0.3" text-anchor="middle">0</text></g>
<line x1="765.8" y1="138.5" x2="765.8" y2="290.6" stroke="#141414" stroke-width="1.15"/>
<polygon points="765.8,139.0 763.9,150.0 767.7,150.0" fill="#141414"/>
<polygon points="765.8,290.1 763.9,279.1 767.7,279.1" fill="#141414"/>
<g transform="translate(752.8 198.5) rotate(-90)"><path d="M-10.20 -4.10 L-8.60 -6.30 V6.30" stroke="#55555c" stroke-width="1.1" fill="none"/><path d="M-1.60 -4.10 L0.00 -6.30 V6.30" stroke="#55555c" stroke-width="1.1" fill="none"/><text transform="translate(8.60 6.30) scale(0.725 1)" x="0" y="0" font-family="Liberation Sans" font-size="17.60" fill="#55555c" stroke="#fff" stroke-width="0.3" text-anchor="middle">5</text></g>
<line x1="690" y1="375.4" x2="808" y2="375.4" stroke="#141414" stroke-width="1.15"/>
<line x1="803.5" y1="138.5" x2="803.5" y2="375.4" stroke="#141414" stroke-width="1.15"/>
<polygon points="803.5,139.0 801.6,150.0 805.4,150.0" fill="#141414"/>
<polygon points="803.5,374.9 801.6,363.9 805.4,363.9" fill="#141414"/>
<g transform="translate(789.5 250.6) rotate(-90)"><path d="M-26.10 -4.80 L-24.50 -7.00 V7.00" stroke="#55555c" stroke-width="1.1" fill="none"/><text transform="translate(-16.50 7.00) scale(0.653 1)" x="0" y="0" font-family="Liberation Sans" font-size="19.55" fill="#55555c" stroke="#fff" stroke-width="0.3" text-anchor="middle">8</text><text transform="translate(-8.50 7.00) scale(0.653 1)" x="0" y="0" font-family="Liberation Sans" font-size="19.55" fill="#55555c" stroke="#fff" stroke-width="0.3" text-anchor="middle">0</text><path d="M-1.00 0.28 H9.00 M4.00 -2.80 V4.20 M-1.00 7.00 H9.00" stroke="#55555c" stroke-width="1.15" fill="none"/><path d="M14.90 -4.80 L16.50 -7.00 V7.00" stroke="#55555c" stroke-width="1.1" fill="none"/><text transform="translate(24.50 7.00) scale(0.653 1)" x="0" y="0" font-family="Liberation Sans" font-size="19.55" fill="#55555c" stroke="#fff" stroke-width="0.3" text-anchor="middle">0</text></g>
<line x1="601.3" y1="335" x2="601.3" y2="407.5" stroke="#141414" stroke-width="1.15"/>
<line x1="672.8" y1="335" x2="672.8" y2="407.5" stroke="#141414" stroke-width="1.15"/>
<line x1="583" y1="401.2" x2="691" y2="401.2" stroke="#141414" stroke-width="1.15"/>
<polygon points="601.0,401.2 590.0,399.3 590.0,403.1" fill="#141414"/>
<polygon points="673.1,401.2 684.1,399.3 684.1,403.1" fill="#141414"/>
<g transform="translate(640.2 389.4)"><text transform="translate(-15.70 7.25) scale(0.630 1)" x="0" y="0" font-family="Liberation Sans" font-size="20.25" fill="#55555c" stroke="#fff" stroke-width="0.3" text-anchor="middle">5</text><text transform="translate(-7.70 7.25) scale(0.630 1)" x="0" y="0" font-family="Liberation Sans" font-size="20.25" fill="#55555c" stroke="#fff" stroke-width="0.3" text-anchor="middle">5</text><path d="M-1.00 0.29 H9.00 M4.00 -2.90 V4.35 M-1.00 7.25 H9.00" stroke="#55555c" stroke-width="1.15" fill="none"/><text transform="translate(15.70 7.25) scale(0.630 1)" x="0" y="0" font-family="Liberation Sans" font-size="20.25" fill="#55555c" stroke="#fff" stroke-width="0.3" text-anchor="middle">2</text></g>

</svg>
</body></html>
